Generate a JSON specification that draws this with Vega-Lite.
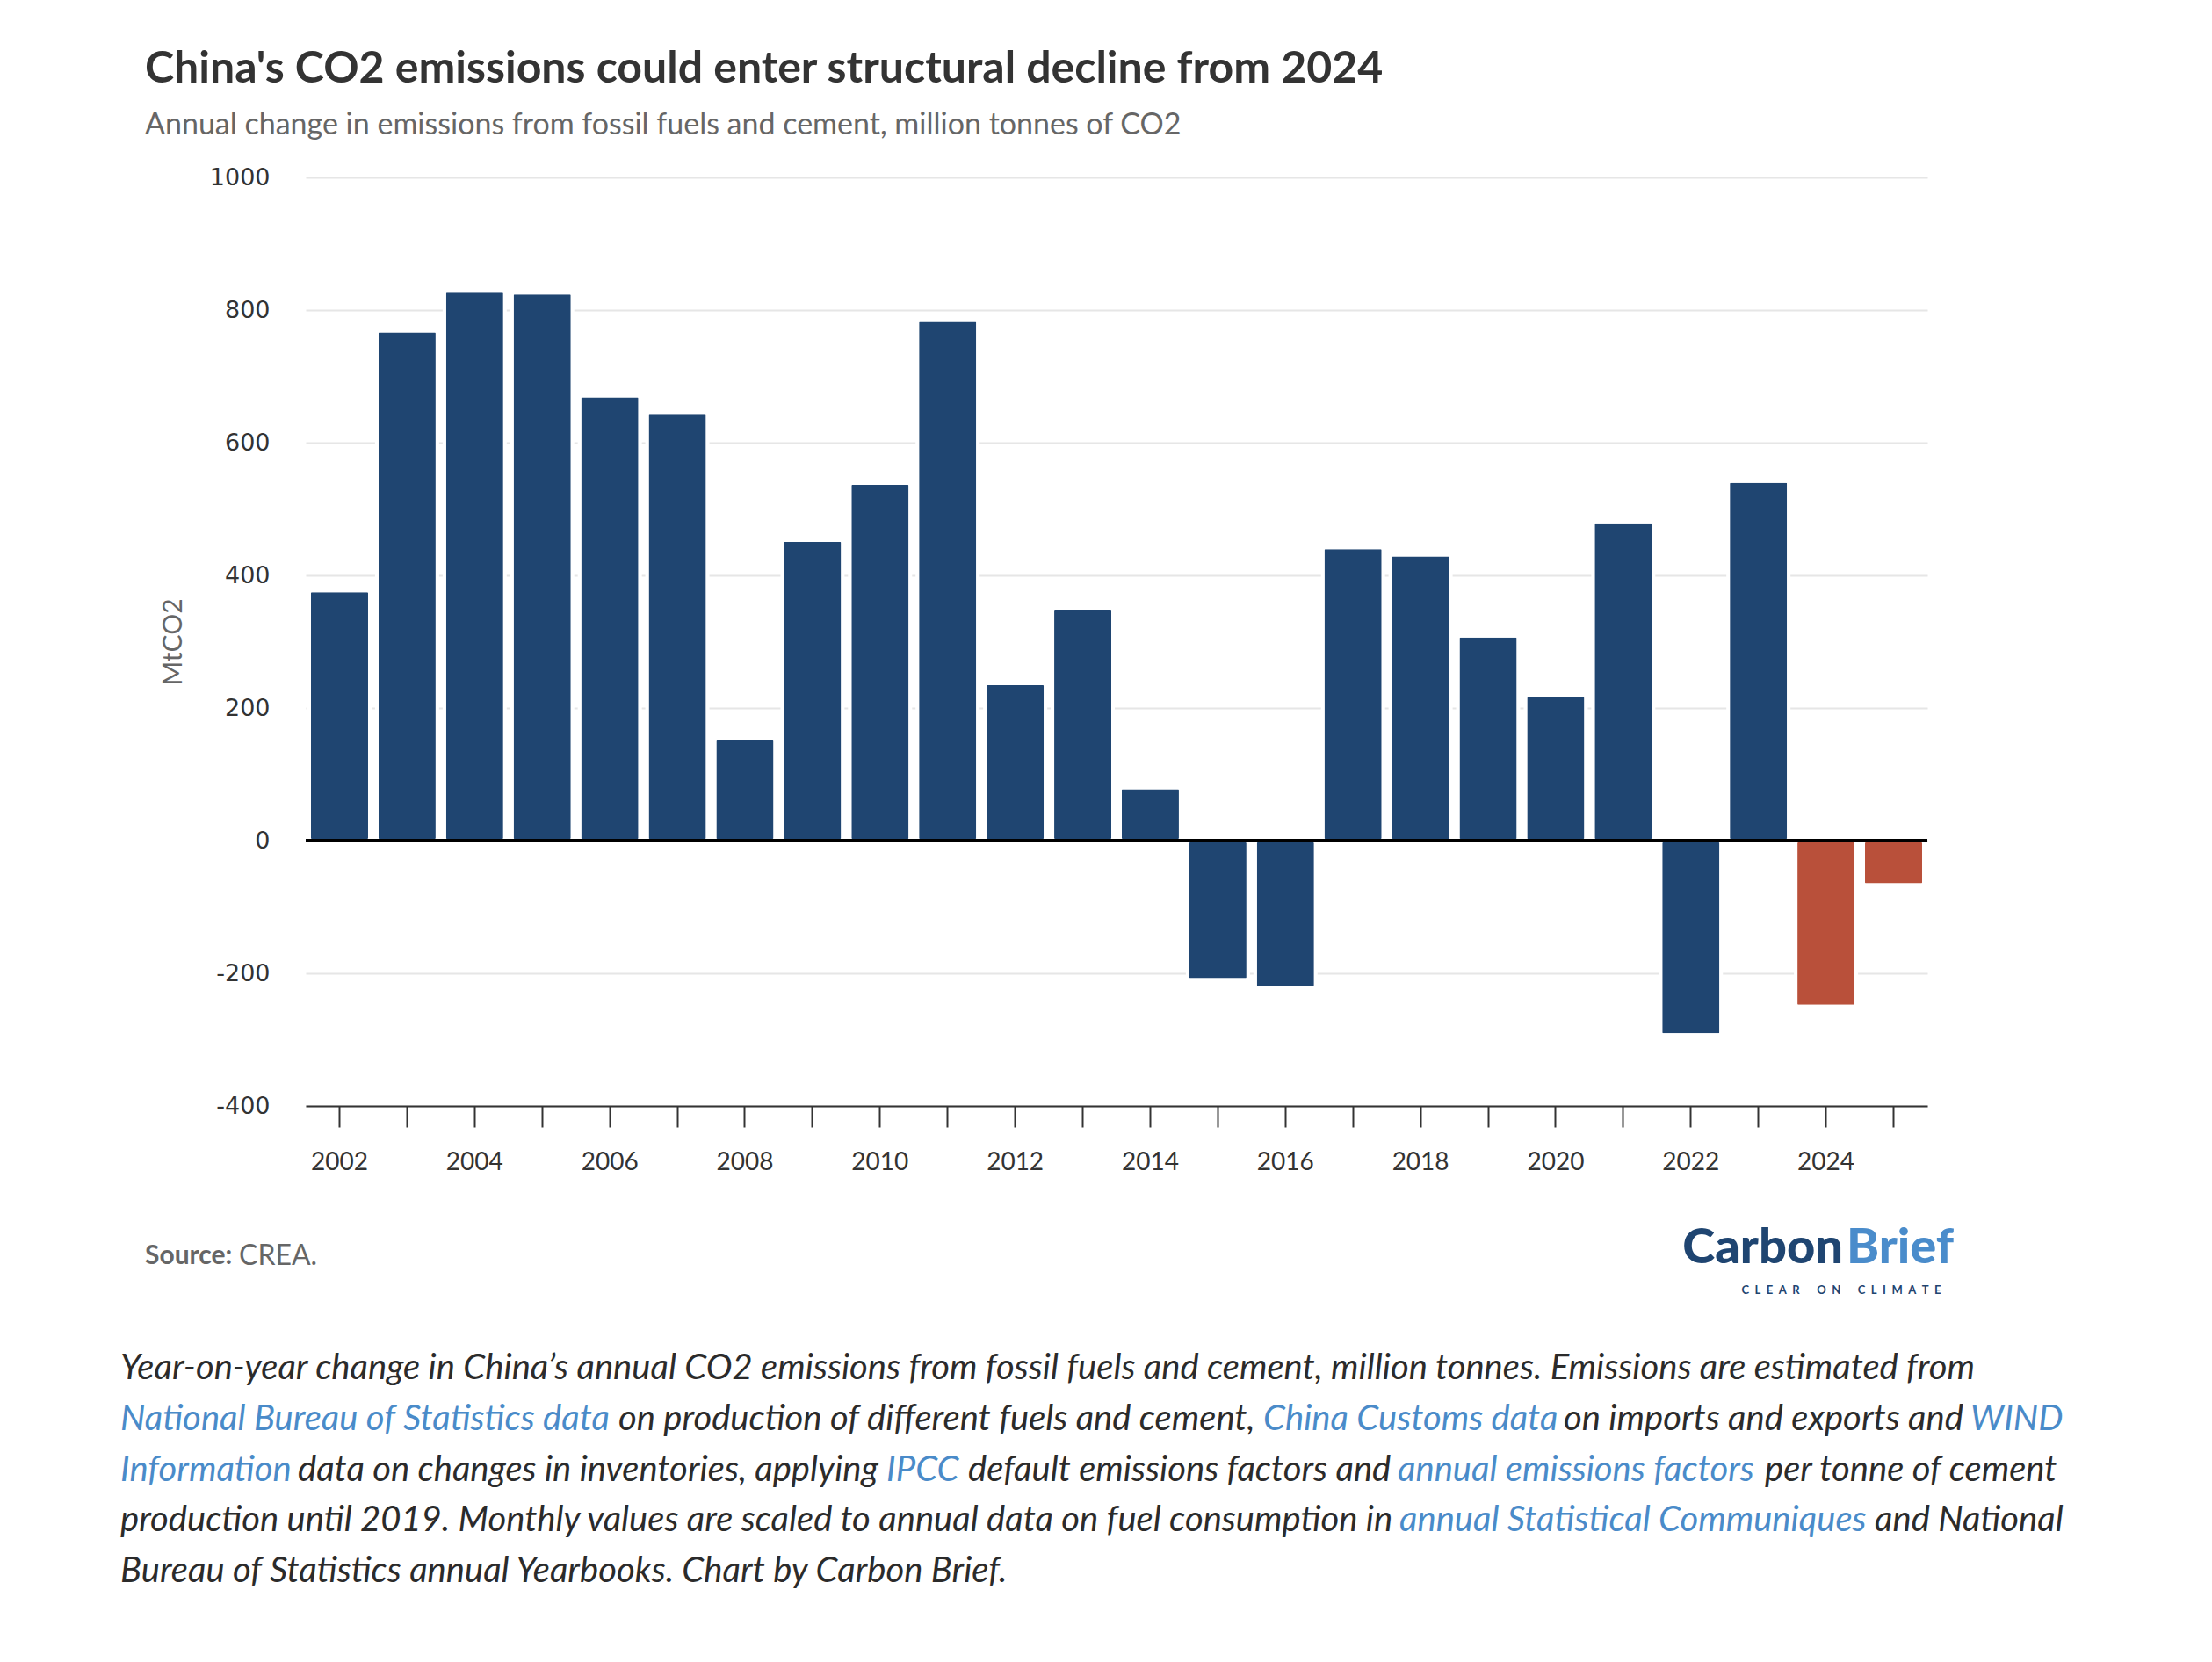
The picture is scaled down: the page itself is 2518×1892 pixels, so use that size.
{
  "$schema": "https://vega.github.io/schema/vega-lite/v6.json",
  "width": 1846,
  "height": 1057,
  "autosize": {"type": "none"},
  "padding": {"left": 348, "top": 202, "right": 324, "bottom": 633},
  "background": "white",
  "config": {"view": {"stroke": null}},
  "title": {
    "text": "China's CO2 emissions could enter structural decline from 2024",
    "subtitle": "Annual change in emissions from fossil fuels and cement, million tonnes of CO2",
    "anchor": "start",
    "frame": "group",
    "dx": -183,
    "offset": 28,
    "font": "Lato",
    "fontSize": 50,
    "fontWeight": "bold",
    "color": "#333333",
    "subtitleFont": "Lato",
    "subtitleFontSize": 34,
    "subtitleColor": "#666666",
    "subtitlePadding": 22
  },
  "datasets": {
    "bars": [
      {"year": 2002, "change": 377, "series": "Historical"},
      {"year": 2003, "change": 769, "series": "Historical"},
      {"year": 2004, "change": 830, "series": "Historical"},
      {"year": 2005, "change": 826, "series": "Historical"},
      {"year": 2006, "change": 671, "series": "Historical"},
      {"year": 2007, "change": 646, "series": "Historical"},
      {"year": 2008, "change": 155, "series": "Historical"},
      {"year": 2009, "change": 453, "series": "Historical"},
      {"year": 2010, "change": 539, "series": "Historical"},
      {"year": 2011, "change": 786, "series": "Historical"},
      {"year": 2012, "change": 237, "series": "Historical"},
      {"year": 2013, "change": 351, "series": "Historical"},
      {"year": 2014, "change": 80, "series": "Historical"},
      {"year": 2015, "change": -210, "series": "Historical"},
      {"year": 2016, "change": -222, "series": "Historical"},
      {"year": 2017, "change": 442, "series": "Historical"},
      {"year": 2018, "change": 431, "series": "Historical"},
      {"year": 2019, "change": 309, "series": "Historical"},
      {"year": 2020, "change": 219, "series": "Historical"},
      {"year": 2021, "change": 481, "series": "Historical"},
      {"year": 2022, "change": -293, "series": "Historical"},
      {"year": 2023, "change": 542, "series": "Historical"},
      {"year": 2024, "change": -250, "series": "Projection"},
      {"year": 2025, "change": -67, "series": "Projection"}
    ]
  },
  "layer": [
    {
      "data": {"name": "bars"},
      "mark": {"type": "bar", "cornerRadius": 3, "stroke": "white", "strokeWidth": 4},
      "encoding": {
        "x": {
          "field": "year",
          "type": "ordinal",
          "scale": {"paddingInner": 0.103, "paddingOuter": 0.052},
          "axis": {
            "title": null,
            "labelExpr": "datum.value % 2 == 0 ? datum.label : ''",
            "labelAngle": 0,
            "labelOverlap": false,
            "domainColor": "#333333",
            "domainWidth": 2,
            "tickColor": "#333333",
            "tickWidth": 2,
            "tickSize": 24,
            "labelFont": "Lato",
            "labelFontSize": 28,
            "labelColor": "#333333",
            "labelPadding": 26,
            "grid": false
          }
        },
        "y": {
          "field": "change",
          "type": "quantitative",
          "scale": {"domain": [-400, 1000], "nice": false, "zero": false},
          "axis": {
            "values": [-400, -200, 0, 200, 400, 600, 800, 1000],
            "labelExpr": "'' + datum.value",
            "grid": true,
            "gridColor": "#e6e6e6",
            "gridWidth": 2,
            "domain": false,
            "ticks": false,
            "labelFont": "DejaVu Sans",
            "labelFontSize": 27,
            "labelColor": "#333333",
            "labelPadding": 41,
            "title": "MtCO2",
            "titleFont": "Lato",
            "titleFontSize": 30,
            "titleFontWeight": "normal",
            "titleColor": "#666666",
            "titlePadding": 26
          }
        },
        "color": {
          "field": "series",
          "type": "nominal",
          "scale": {"domain": ["Historical", "Projection"], "range": ["#1f4571", "#b9503a"]},
          "legend": null
        }
      }
    },
    {
      "data": {"values": [{}]},
      "mark": {"type": "rule", "color": "#000000", "strokeWidth": 4},
      "encoding": {"y": {"datum": 0}}
    },
    {"data": {"values": [{}]}, "mark": {"type": "text", "text": "Year-on-year change in China’s annual CO2 emissions from fossil fuels and cement, million tonnes. Emissions are estimated from", "x": -211, "y": 1356, "align": "left", "baseline": "middle", "font": "Lato", "fontSize": 40, "fontStyle": "italic", "color": "#2b2b2b"}},
    {"data": {"values": [{}]}, "mark": {"type": "text", "text": "National Bureau of Statistics data", "x": -211, "y": 1414, "align": "left", "baseline": "middle", "font": "Lato", "fontSize": 40, "fontStyle": "italic", "color": "#4a8bc9"}},
    {"data": {"values": [{}]}, "mark": {"type": "text", "text": "on production of different fuels and cement,", "x": 356, "y": 1414, "align": "left", "baseline": "middle", "font": "Lato", "fontSize": 40, "fontStyle": "italic", "color": "#2b2b2b"}},
    {"data": {"values": [{}]}, "mark": {"type": "text", "text": "China Customs data", "x": 1090, "y": 1414, "align": "left", "baseline": "middle", "font": "Lato", "fontSize": 40, "fontStyle": "italic", "color": "#4a8bc9"}},
    {"data": {"values": [{}]}, "mark": {"type": "text", "text": "on imports and exports and", "x": 1432, "y": 1414, "align": "left", "baseline": "middle", "font": "Lato", "fontSize": 40, "fontStyle": "italic", "color": "#2b2b2b"}},
    {"data": {"values": [{}]}, "mark": {"type": "text", "text": "WIND", "x": 1895, "y": 1414, "align": "left", "baseline": "middle", "font": "Lato", "fontSize": 40, "fontStyle": "italic", "color": "#4a8bc9"}},
    {"data": {"values": [{}]}, "mark": {"type": "text", "text": "Information", "x": -211, "y": 1472, "align": "left", "baseline": "middle", "font": "Lato", "fontSize": 40, "fontStyle": "italic", "color": "#4a8bc9"}},
    {"data": {"values": [{}]}, "mark": {"type": "text", "text": "data on changes in inventories, applying", "x": -9, "y": 1472, "align": "left", "baseline": "middle", "font": "Lato", "fontSize": 40, "fontStyle": "italic", "color": "#2b2b2b"}},
    {"data": {"values": [{}]}, "mark": {"type": "text", "text": "IPCC", "x": 661, "y": 1472, "align": "left", "baseline": "middle", "font": "Lato", "fontSize": 40, "fontStyle": "italic", "color": "#4a8bc9"}},
    {"data": {"values": [{}]}, "mark": {"type": "text", "text": "default emissions factors and", "x": 754, "y": 1472, "align": "left", "baseline": "middle", "font": "Lato", "fontSize": 40, "fontStyle": "italic", "color": "#2b2b2b"}},
    {"data": {"values": [{}]}, "mark": {"type": "text", "text": "annual emissions factors", "x": 1243, "y": 1472, "align": "left", "baseline": "middle", "font": "Lato", "fontSize": 40, "fontStyle": "italic", "color": "#4a8bc9"}},
    {"data": {"values": [{}]}, "mark": {"type": "text", "text": "per tonne of cement", "x": 1661, "y": 1472, "align": "left", "baseline": "middle", "font": "Lato", "fontSize": 40, "fontStyle": "italic", "color": "#2b2b2b"}},
    {"data": {"values": [{}]}, "mark": {"type": "text", "text": "production until 2019. Monthly values are scaled to annual data on fuel consumption in", "x": -211, "y": 1529, "align": "left", "baseline": "middle", "font": "Lato", "fontSize": 40, "fontStyle": "italic", "color": "#2b2b2b"}},
    {"data": {"values": [{}]}, "mark": {"type": "text", "text": "annual Statistical Communiques", "x": 1245, "y": 1529, "align": "left", "baseline": "middle", "font": "Lato", "fontSize": 40, "fontStyle": "italic", "color": "#4a8bc9"}},
    {"data": {"values": [{}]}, "mark": {"type": "text", "text": "and National", "x": 1786, "y": 1529, "align": "left", "baseline": "middle", "font": "Lato", "fontSize": 40, "fontStyle": "italic", "color": "#2b2b2b"}},
    {"data": {"values": [{}]}, "mark": {"type": "text", "text": "Bureau of Statistics annual Yearbooks. Chart by Carbon Brief.", "x": -211, "y": 1587, "align": "left", "baseline": "middle", "font": "Lato", "fontSize": 40, "fontStyle": "italic", "color": "#2b2b2b"}},
    {"data": {"values": [{}]}, "mark": {"type": "text", "text": "Source:", "x": -183, "y": 1228, "align": "left", "baseline": "middle", "font": "Lato", "fontSize": 30, "fontWeight": "bold", "color": "#666666"}},
    {"data": {"values": [{}]}, "mark": {"type": "text", "text": "CREA.", "x": -76, "y": 1228, "align": "left", "baseline": "middle", "font": "Lato", "fontSize": 32, "color": "#666666"}},
    {"data": {"values": [{}]}, "mark": {"type": "text", "text": "Carbon", "x": 1750, "y": 1219, "align": "right", "baseline": "middle", "font": "Lato", "fontSize": 56, "fontWeight": 900, "color": "#1f4571"}},
    {"data": {"values": [{}]}, "mark": {"type": "text", "text": "Brief", "x": 1754, "y": 1219, "align": "left", "baseline": "middle", "font": "Lato", "fontSize": 56, "fontWeight": 900, "color": "#4a8ccb"}},
    {"data": {"values": [{}]}, "mark": {"type": "text", "text": "C\u2002L\u2002E\u2002A\u2002R\u2002\u2002\u2002O\u2002N\u2002\u2002\u2002C\u2002L\u2002I\u2002M\u2002A\u2002T\u2002E", "x": 1748, "y": 1267, "align": "center", "baseline": "middle", "font": "Lato", "fontSize": 13, "fontWeight": "bold", "color": "#1f4571"}}
  ]
}
